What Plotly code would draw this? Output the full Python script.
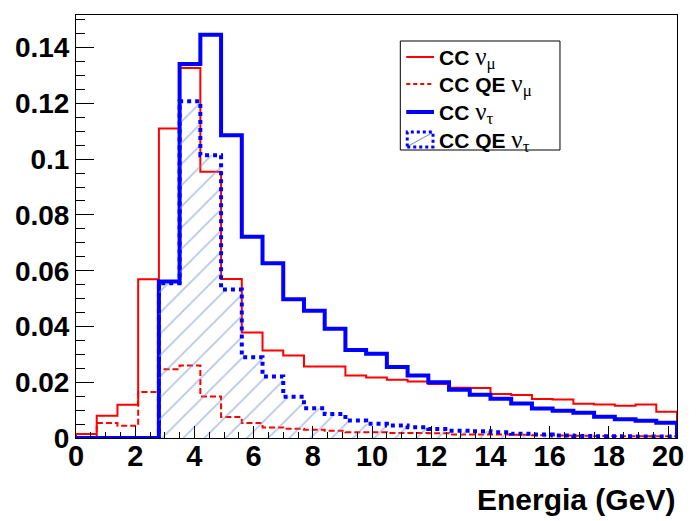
import numpy as np
import plotly.graph_objects as go

# Histogram binning: 29 bins of width 0.7 GeV from 0 to 20.3
bin_width = 0.7
n_bins = 29
edges = [round(i * bin_width, 4) for i in range(n_bins + 1)]

cc_numu = [0.0014, 0.0080, 0.0119, 0.0569, 0.1110, 0.1327, 0.0955, 0.0570,
           0.0378, 0.0314, 0.0296, 0.0256, 0.0256, 0.0224, 0.0217, 0.0209,
           0.0203, 0.0194, 0.0180, 0.0179, 0.0158, 0.0154, 0.0140, 0.0138,
           0.0123, 0.0120, 0.0116, 0.0120, 0.0094]
ccqe_numu = [0.0004, 0.0054, 0.0044, 0.0165, 0.0247, 0.0260, 0.0149, 0.0075,
             0.0054, 0.0038, 0.0033, 0.0030, 0.0026, 0.0021, 0.0021, 0.0018,
             0.0018, 0.0017, 0.0013, 0.0013, 0.0013, 0.0012, 0.0010, 0.0009,
             0.0008, 0.0007, 0.0006, 0.0006, 0.0006]
cc_nutau = [0.0, 0.0, 0.0, 0.0, 0.0561, 0.1341, 0.1446, 0.1086,
            0.0722, 0.0627, 0.0498, 0.0456, 0.0392, 0.0316, 0.0302, 0.0255,
            0.0224, 0.0200, 0.0173, 0.0155, 0.0141, 0.0124, 0.0106, 0.0098,
            0.0091, 0.0076, 0.0067, 0.0062, 0.0055]
ccqe_nutau = [0.0, 0.0, 0.0, 0.0, 0.0555, 0.1208, 0.1014, 0.0533,
              0.0290, 0.0221, 0.0148, 0.0107, 0.0086, 0.0063, 0.0051, 0.0045,
              0.0039, 0.0032, 0.0026, 0.0024, 0.0021, 0.0015, 0.0013, 0.0009,
              0.0007, 0.0006, 0.0006, 0.0005, 0.0005]

series_labels = ["CC", "CC QE", "CC", "CC QE"]
series_flavours = ["μ", "μ", "τ", "τ"]
x_title = "Energia (GeV)"
y_tickvals = [0, 0.02, 0.04, 0.06, 0.08, 0.1, 0.12, 0.14]
x_tickvals = [0, 2, 4, 6, 8, 10, 12, 14, 16, 18, 20]

SERIF = "'Liberation Serif', 'DejaVu Serif', serif"


def label_html(lab, fl):
    return ("<b>" + lab + "</b> "
            + '<span style="font-family:' + SERIF + ';font-size:25px">ν</span>'
            + '<sub><span style="font-family:' + SERIF + ';font-size:17px">' + fl + '</span></sub>')


names = [label_html(l, f) for l, f in zip(series_labels, series_flavours)]


def step_xy(vals):
    xs = [edges[0]] + list(edges[:-1]) + [edges[-1], edges[-1]]
    ys = [0.0] + list(vals) + [vals[-1], 0.0]
    return xs, ys


FONT = "Liberation Sans, Arial, Helvetica, sans-serif"
RED, BLUE, HATCH = "#ff0000", "#0000ff", "#6a8ace"
fig = go.Figure()

x, y = step_xy(cc_numu)
fig.add_trace(go.Scatter(x=x, y=y, mode="lines", line=dict(shape="hv", color=RED, width=2),
                         name=names[0], showlegend=False))
x, y = step_xy(ccqe_numu)
fig.add_trace(go.Scatter(x=x, y=y, mode="lines",
                         line=dict(shape="hv", color=RED, width=2, dash="6px,3px"),
                         name=names[1], showlegend=False))
x, y = step_xy(cc_nutau)
fig.add_trace(go.Scatter(x=x, y=y, mode="lines", line=dict(shape="hv", color=BLUE, width=4),
                         name=names[2], showlegend=False))
x, y = step_xy(ccqe_nutau)
fig.add_trace(go.Scatter(x=x, y=y, mode="lines",
                         line=dict(shape="hv", color=BLUE, width=4, dash="dot"),
                         fill="tozeroy", fillcolor="rgba(0,0,0,0)",
                         fillpattern=dict(shape="/", fgcolor=HATCH, bgcolor="rgba(0,0,0,0)",
                                          size=15, solidity=0.11),
                         name=names[3], showlegend=False))

# ---- legend box (drawn in paper coordinates, like ROOT's TLegend) ----
px0, px1 = 76.0, 682.0     # plot area in pixels (from margins)
py_top, py_bot = 15.0, 438.0


def pxx(p):
    return (p - px0) / (px1 - px0)


def pyy(p):
    return (py_bot - p) / (py_bot - py_top)


shapes = [dict(type="rect", xref="paper", yref="paper", x0=pxx(403), x1=pxx(564),
               y0=pyy(150), y1=pyy(41), line=dict(color="black", width=1),
               fillcolor="white", layer="above")]
row_y = [57, 84, 112, 140]
styles = [dict(color=RED, width=2), dict(color=RED, width=2, dash="4px,3px"),
          dict(color=BLUE, width=4)]
annotations = []
for i in range(3):
    shapes.append(dict(type="line", xref="paper", yref="paper", x0=pxx(409), x1=pxx(437),
                       y0=pyy(row_y[i]), y1=pyy(row_y[i]), line=styles[i], layer="above"))
# hatched box icon for CC QE nu_tau
shapes.append(dict(type="line", xref="paper", yref="paper", x0=pxx(411), x1=pxx(435),
                   y0=pyy(146), y1=pyy(133), line=dict(color=HATCH, width=1), layer="above"))
shapes.append(dict(type="rect", xref="paper", yref="paper", x0=pxx(410), x1=pxx(436),
                   y0=pyy(147), y1=pyy(132), line=dict(color=BLUE, width=3, dash="dot"),
                   fillcolor="rgba(0,0,0,0)", layer="above"))
for i in range(4):
    annotations.append(dict(text=names[i], xref="paper", yref="paper", x=pxx(440), y=pyy(row_y[i] + 1),
                            xanchor="left", yanchor="middle", showarrow=False,
                            font=dict(family=FONT, size=21, color="black")))

annotations.append(dict(text="<b>" + x_title + "</b>", xref="paper", yref="paper",
                        x=1.0, y=-0.146, xanchor="right", yanchor="middle", showarrow=False,
                        font=dict(family=FONT, size=30, color="black")))

fig.update_layout(
    width=696, height=521,
    margin=dict(l=76, r=14, t=15, b=83),
    paper_bgcolor="white", plot_bgcolor="white",
    font=dict(family=FONT, color="black"),
    showlegend=False,
    xaxis=dict(range=[0, edges[-1]], tickvals=x_tickvals, ticks="inside", ticklen=12,
               tickcolor="black", tickwidth=1, ticklabelstandoff=-8,
               minor=dict(dtick=0.5, tick0=0, ticks="inside", ticklen=6, tickcolor="black"),
               showline=True, linecolor="black", linewidth=1, mirror=True,
               showgrid=False, zeroline=False,
               tickfont=dict(family=FONT, size=29, color="black", weight="bold")),
    yaxis=dict(range=[0, 0.1517], tickvals=y_tickvals, ticks="inside", ticklen=18,
               tickcolor="black", tickwidth=1,
               minor=dict(dtick=0.005, tick0=0, ticks="inside", ticklen=9, tickcolor="black"),
               showline=True, linecolor="black", linewidth=1, mirror=True,
               showgrid=False, zeroline=False,
               tickfont=dict(family=FONT, size=28, color="black", weight="bold")),
    shapes=shapes,
    annotations=annotations,
)

fig.write_html("out.html")
